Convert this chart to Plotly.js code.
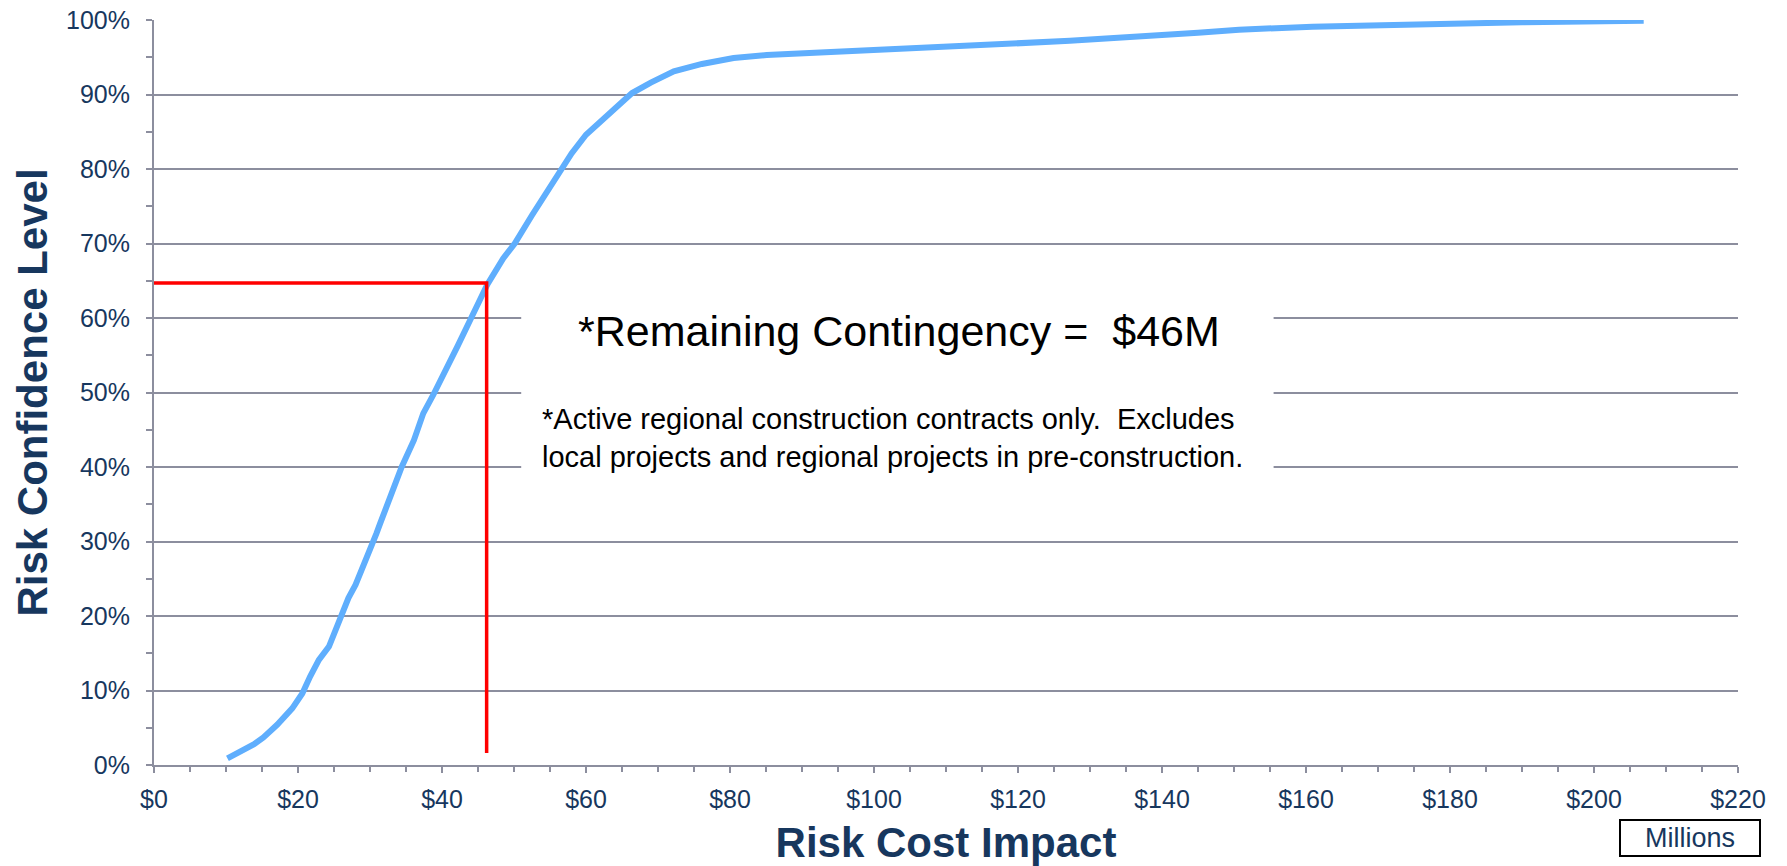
<!DOCTYPE html>
<html>
<head>
<meta charset="utf-8">
<script src="https://cdn.plot.ly/plotly-3.0.1.min.js"></script>
<style>
  html, body { margin: 0; padding: 0; background: #ffffff; }
  #chart { width: 1787px; height: 866px; }
</style>
</head>
<body>
<div id="chart"></div>
<script>
// Risk cost impact ($ millions) vs cumulative risk confidence level (%)
const costMillions = [10.2, 13.9, 15.2, 17.1, 19.2, 20.6, 21.7, 22.9, 24.3, 25.2, 25.9, 27.0, 28.0, 28.9,
  30.0, 30.9, 31.4, 32.6, 34.4, 36.1, 37.4, 38.8, 40.6, 42.2, 43.9, 45.3, 46.3, 48.5, 50.1, 52.5,
  55.0, 58.0, 60.0, 62.4, 66.4, 69.0, 72.2, 76.1, 80.5, 85.1, 97.5, 103.6, 113.3, 127.2, 145.0,
  150.7, 160.9, 174.3, 190.0, 206.9];
const confidencePct = [0.9, 2.8, 3.7, 5.4, 7.6, 9.6, 11.9, 14.1, 15.9, 18.1, 20.1, 22.4, 24.2, 26.2,
  28.6, 31.1, 32.4, 35.6, 40.0, 43.6, 47.2, 49.7, 53.0, 56.3, 59.7, 62.4, 64.5, 68.0, 70.0, 73.8,
  77.7, 82.1, 84.6, 86.8, 90.2, 91.6, 93.1, 94.1, 94.9, 95.3, 95.9, 96.1, 96.6, 97.2, 98.3,
  98.7, 99.1, 99.4, 99.7, 99.9];

// Remaining contingency marker lines
const markerX = [0, 46.2, 46.2];
const markerY = [64.7, 64.7, 1.6];

const xTickVals = [0, 20, 40, 60, 80, 100, 120, 140, 160, 180, 200, 220];
const xTickText = ['$0', '$20', '$40', '$60', '$80', '$100', '$120', '$140', '$160', '$180', '$200', '$220'];
const yTickVals = [0, 10, 20, 30, 40, 50, 60, 70, 80, 90, 100];
const yTickText = ['0%', '10%', '20%', '30%', '40%', '50%', '60%', '70%', '80%', '90%', '100%'];

const mainNote = '*Remaining Contingency =\u00a0 $46M';
const footNote = '*Active regional construction contracts only.\u00a0 Excludes<br>local projects and regional projects in pre-construction.';
const xTitle = 'Risk Cost Impact';
const yTitle = 'Risk Confidence Level';
const unitLabel = 'Millions';

const FONT = 'Liberation Sans, Arial, sans-serif';
const NAVY = '#17375E';
const GRID = '#8C8E9E';

const traces = [
  {
    x: costMillions, y: confidencePct, type: 'scatter', mode: 'lines',
    line: { color: '#5FAEFD', width: 6, shape: 'linear' },
    hoverinfo: 'x+y', showlegend: false
  },
  {
    x: markerX, y: markerY, type: 'scatter', mode: 'lines',
    line: { color: '#FF0000', width: 3.5 },
    hoverinfo: 'skip', showlegend: false
  }
];

const layout = {
  width: 1787, height: 866,
  margin: { l: 154, r: 49, t: 20, b: 101 },
  paper_bgcolor: '#ffffff', plot_bgcolor: '#ffffff',
  font: { family: FONT, color: NAVY },
  showlegend: false,
  xaxis: {
    range: [0, 220], tickmode: 'array', tickvals: xTickVals, ticktext: xTickText,
    showgrid: false, zeroline: false,
    showline: true, linecolor: GRID, linewidth: 2,
    ticks: 'outside', ticklen: 6, tickwidth: 2, tickcolor: GRID,
    ticklabelstandoff: 5,
    tickfont: { family: FONT, size: 25, color: NAVY },
    minor: { dtick: 5, tick0: 0, ticks: 'outside', ticklen: 5, tickwidth: 2, tickcolor: GRID, showgrid: false },
    title: { text: xTitle, standoff: 20, font: { family: FONT, size: 42, color: NAVY, weight: 'bold' } },
    fixedrange: true
  },
  yaxis: {
    range: [0, 100], tickmode: 'array', tickvals: yTickVals, ticktext: yTickText,
    showgrid: true, gridcolor: GRID, gridwidth: 2, zeroline: false,
    showline: true, linecolor: GRID, linewidth: 2,
    ticks: 'outside', ticklen: 6, tickwidth: 2, tickcolor: GRID,
    ticklabelstandoff: 11,
    tickfont: { family: FONT, size: 25, color: NAVY },
    minor: { dtick: 5, tick0: 0, ticks: 'outside', ticklen: 6, tickwidth: 2, tickcolor: GRID, showgrid: false },
    title: { text: yTitle, standoff: 5, font: { family: FONT, size: 42, color: NAVY, weight: 'bold' } },
    fixedrange: true
  },
  shapes: [
    { type: 'rect', xref: 'x', yref: 'y', x0: 51.0, x1: 155.5, y0: 33, y1: 68,
      fillcolor: '#ffffff', line: { width: 0 }, layer: 'above' }
  ],
  annotations: [
    { xref: 'x', yref: 'y', x: 103.5, y: 58.2, text: mainNote, showarrow: false,
      xanchor: 'center', yanchor: 'middle',
      font: { family: FONT, size: 43, color: '#000000' } },
    { xref: 'x', yref: 'y', x: 53.6, y: 43.9, text: footNote, showarrow: false,
      xanchor: 'left', yanchor: 'middle', align: 'left',
      font: { family: FONT, size: 29, color: '#000000' } },
    { xref: 'paper', yref: 'paper', x: 0.9695, y: -0.098, text: unitLabel, showarrow: false,
      xanchor: 'center', yanchor: 'middle', width: 136, height: 32,
      bgcolor: '#ffffff', bordercolor: '#000000', borderwidth: 2, borderpad: 1,
      font: { family: FONT, size: 27, color: NAVY } }
  ]
};

Plotly.newPlot('chart', traces, layout, { displayModeBar: false, staticPlot: true });
</script>
</body>
</html>
